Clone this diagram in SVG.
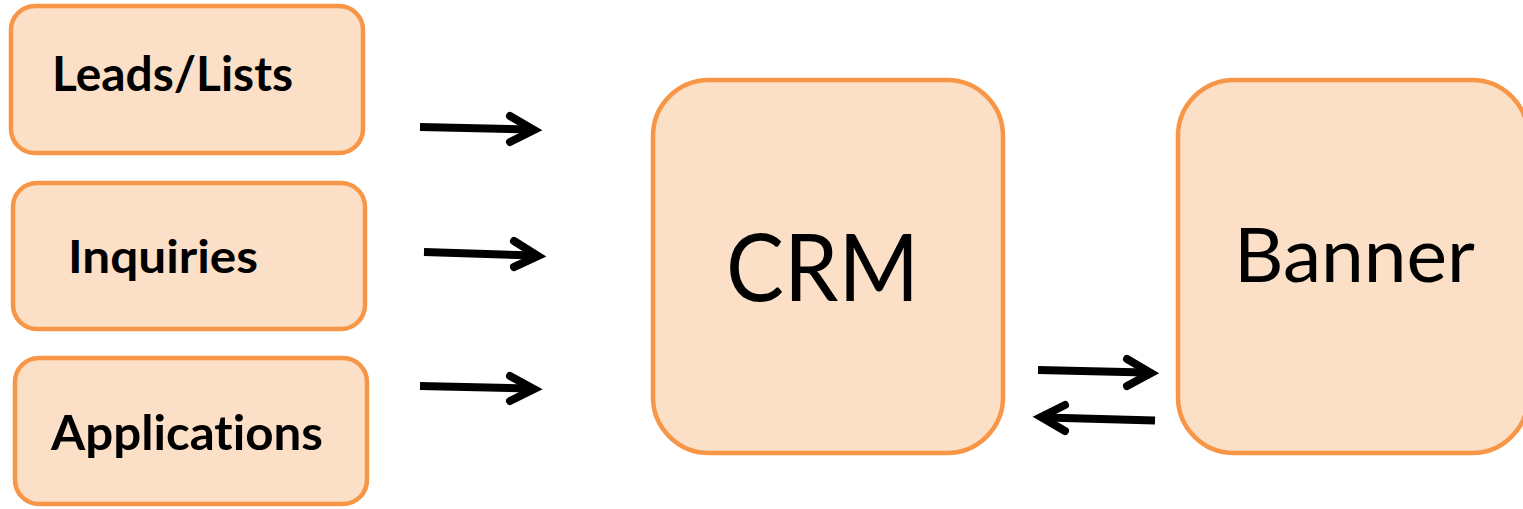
<svg xmlns="http://www.w3.org/2000/svg" width="1523" height="509" viewBox="0 0 1523 509">
<style>
.box{fill:#FBDFC6;stroke:#F79646;stroke-width:4.5}
.lbl{font-family:Lato,"Open Sans",sans-serif;font-weight:bold;fill:#000;font-variant-ligatures:none;font-feature-settings:"liga" 0,"clig" 0,"dlig" 0}
.big{font-family:Lato,"Open Sans",sans-serif;font-weight:normal;fill:#000;font-variant-ligatures:none}
.shaft{fill:none;stroke:#000;stroke-width:8;stroke-linecap:butt}
.head{fill:none;stroke:#000;stroke-width:8;stroke-linecap:round;stroke-linejoin:miter;stroke-miterlimit:10}
</style>
<rect width="1523" height="509" fill="#fff"/>
<g id="leads">
<rect class="box" x="11" y="6" width="352" height="147" rx="24"/>
<text class="lbl" x="52" y="91" font-size="47" textLength="241" lengthAdjust="spacingAndGlyphs">Leads/Lists</text>
</g>
<g id="inquiries">
<rect class="box" x="13" y="183" width="352" height="146" rx="24"/>
<text class="lbl" x="68" y="273" font-size="45" textLength="190" lengthAdjust="spacingAndGlyphs">Inquiries</text>
</g>
<g id="applications">
<rect class="box" x="15" y="358" width="352" height="146" rx="24"/>
<text class="lbl" x="51" y="450" font-size="47" textLength="272" lengthAdjust="spacingAndGlyphs">Applications</text>
</g>
<g id="crm">
<rect class="box" x="653" y="80" width="350" height="373" rx="56"/>
<text class="big" x="726" y="301" font-size="94" textLength="193" lengthAdjust="spacingAndGlyphs">CRM</text>
</g>
<g id="banner">
<rect class="box" x="1178" y="80" width="350" height="373" rx="56"/>
<text class="big" x="1234" y="282" font-size="75" textLength="241" lengthAdjust="spacingAndGlyphs">Banner</text>
</g>
<g id="connectors">
<path class="shaft" d="M420 127 L529 129.5"/>
<path class="head" d="M510 116 L534 130 L510 142"/>
<path class="shaft" d="M424 252 L534 255.5"/>
<path class="head" d="M514 241 L538 256 L514 267"/>
<path class="shaft" d="M420 386 L529 388.5"/>
<path class="head" d="M510 376 L534 389 L510 401"/>
<path class="shaft" d="M1038 370 L1146 372.5"/>
<path class="head" d="M1127 359 L1151 373 L1127 386"/>
<path class="shaft" d="M1155 420.5 L1046 417.5"/>
<path class="head" d="M1065 405 L1041 417 L1065 431"/>
</g>
</svg>
